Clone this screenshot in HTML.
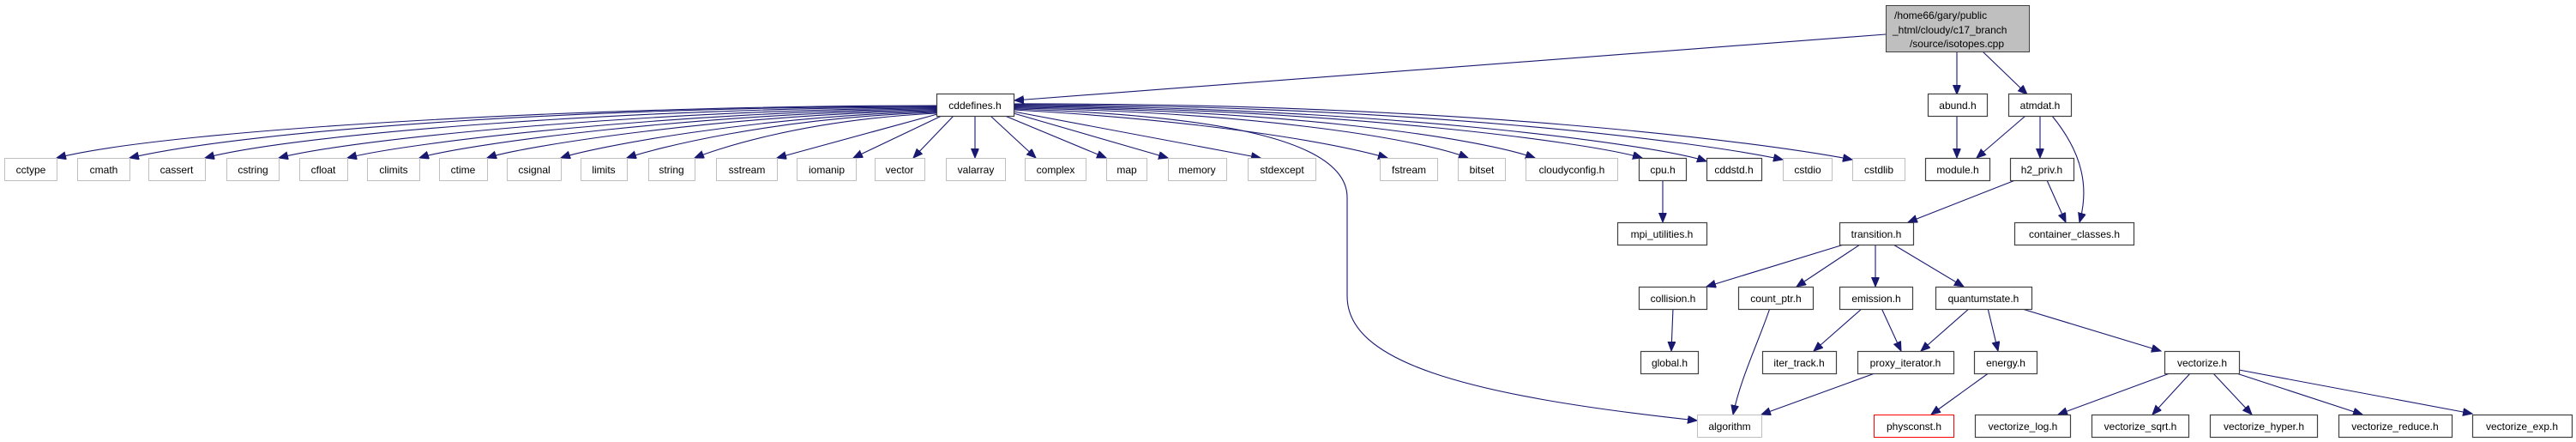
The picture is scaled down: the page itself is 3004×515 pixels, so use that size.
<!DOCTYPE html>
<html><head><meta charset="utf-8"><style>
body{margin:0;background:#fff;width:3004px;height:515px;overflow:hidden}
svg{display:block}
text{font-family:"Liberation Sans",sans-serif;font-size:12px;fill:#000}
.e{fill:none;stroke:#191970;stroke-width:1.1}
.g{fill:#fff;stroke:#bfbfbf;stroke-width:1}
.b{fill:#fff;stroke:#404040;stroke-width:1.2}
</style></head><body>
<svg width="3004" height="515" viewBox="0 0 3004 515" xmlns="http://www.w3.org/2000/svg">
<defs><marker id="a" markerUnits="userSpaceOnUse" markerWidth="12" markerHeight="10" refX="11" refY="4.5" orient="auto"><path d="M0,0 L11,4.5 L0,9 Z" fill="#191970" stroke="#191970"/></marker></defs>
<g id="edges">
<path class="e" marker-end="url(#a)" d="M2199,40 L1183,117"/>
<path class="e" marker-end="url(#a)" d="M2282,60 L2282,110"/>
<path class="e" marker-end="url(#a)" d="M2312,60 L2364,110"/>
<path class="e" marker-end="url(#a)" d="M2282,135 L2282,184"/>
<path class="e" marker-end="url(#a)" d="M2362,135 L2305,184"/>
<path class="e" marker-end="url(#a)" d="M2379,135 L2379,184"/>
<path class="e" marker-end="url(#a)" d="M2393,135 C2430,180 2436,220 2425,259"/>
<path class="e" marker-end="url(#a)" d="M2387,210 L2409,259"/>
<path class="e" marker-end="url(#a)" d="M2350,210 L2225,259"/>
<path class="e" marker-end="url(#a)" d="M2150,285 L1990,334"/>
<path class="e" marker-end="url(#a)" d="M2169,285 L2095,334"/>
<path class="e" marker-end="url(#a)" d="M2187,285 L2187,334"/>
<path class="e" marker-end="url(#a)" d="M2208,285 L2290,334"/>
<path class="e" marker-end="url(#a)" d="M1939,210 L1939,259"/>
<path class="e" marker-end="url(#a)" d="M1951,359 L1949,409"/>
<path class="e" marker-end="url(#a)" d="M2064,359 C2050,400 2030,440 2021,483"/>
<path class="e" marker-end="url(#a)" d="M2172,359 L2115,409"/>
<path class="e" marker-end="url(#a)" d="M2194,359 L2217,409"/>
<path class="e" marker-end="url(#a)" d="M2297,359 L2240,409"/>
<path class="e" marker-end="url(#a)" d="M2318,359 L2330,409"/>
<path class="e" marker-end="url(#a)" d="M2355,359 L2520,409"/>
<path class="e" marker-end="url(#a)" d="M2189,434 L2054,483"/>
<path class="e" marker-end="url(#a)" d="M2320,434 L2252,483"/>
<path class="e" marker-end="url(#a)" d="M2533,434 L2400,483"/>
<path class="e" marker-end="url(#a)" d="M2555,434 L2510,483"/>
<path class="e" marker-end="url(#a)" d="M2580,434 L2626,483"/>
<path class="e" marker-end="url(#a)" d="M2605,434 L2755,483"/>
<path class="e" marker-end="url(#a)" d="M2611,431 L2883,482"/>
<path class="e" marker-end="url(#a)" d="M1182,127 C1450,135 1571,170 1571,230 L1571,345 C1571,420 1700,460 1979,490"/>
<path class="e" marker-end="url(#a)" d="M1092,123 C700,123 200,150 66,184"/>
<path class="e" marker-end="url(#a)" d="M1092,124 C700,124 300,150 151,184"/>
<path class="e" marker-end="url(#a)" d="M1092,125 C750,125 350,155 239,184"/>
<path class="e" marker-end="url(#a)" d="M1092,126 C780,127 420,160 325,184"/>
<path class="e" marker-end="url(#a)" d="M1092,127 C800,129 480,165 405,184"/>
<path class="e" marker-end="url(#a)" d="M1092,128 C820,131 540,168 489,184"/>
<path class="e" marker-end="url(#a)" d="M1092,129 C850,133 610,170 568,184"/>
<path class="e" marker-end="url(#a)" d="M1092,130 C880,135 690,172 654,184"/>
<path class="e" marker-end="url(#a)" d="M1092,131 C900,137 760,174 731,184"/>
<path class="e" marker-end="url(#a)" d="M1092,132 C930,140 830,176 810,184"/>
<path class="e" marker-end="url(#a)" d="M1093,133 L906,184"/>
<path class="e" marker-end="url(#a)" d="M1098,135 L995,184"/>
<path class="e" marker-end="url(#a)" d="M1112,135 L1065,184"/>
<path class="e" marker-end="url(#a)" d="M1137,135 L1137,184"/>
<path class="e" marker-end="url(#a)" d="M1155,135 L1208,184"/>
<path class="e" marker-end="url(#a)" d="M1172,135 L1290,184"/>
<path class="e" marker-end="url(#a)" d="M1182,132 L1362,184"/>
<path class="e" marker-end="url(#a)" d="M1182,130 L1470,184"/>
<path class="e" marker-end="url(#a)" d="M1182,128 C1400,140 1550,165 1618,184"/>
<path class="e" marker-end="url(#a)" d="M1182,126 C1450,130 1650,160 1712,184"/>
<path class="e" marker-end="url(#a)" d="M1182,125 C1500,128 1720,160 1790,184"/>
<path class="e" marker-end="url(#a)" d="M1182,124 C1550,126 1850,165 1915,184"/>
<path class="e" marker-end="url(#a)" d="M1182,123 C1600,124 1930,168 1990,188"/>
<path class="e" marker-end="url(#a)" d="M1182,122 C1650,122 1980,165 2079,186"/>
<path class="e" marker-end="url(#a)" d="M1182,121 C1700,120 2050,165 2160,186"/>
</g>
<g>
<rect x="2199.5" y="6.5" width="167" height="54" fill="#bfbfbf" stroke="#404040"/>
<text x="2209" y="22">/home66/gary/public</text>
<text x="2207" y="39">_html/cloudy/c17_branch</text>
<text x="2282" y="55" text-anchor="middle">/source/isotopes.cpp</text>
</g>
<g text-anchor="middle">
<rect class="b" x="1092.5" y="109.5" width="90" height="26"/><text x="1137" y="127">cddefines.h</text>
<rect class="b" x="2248.5" y="109.5" width="69" height="26"/><text x="2283" y="127">abund.h</text>
<rect class="b" x="2342.5" y="109.5" width="73" height="26"/><text x="2379" y="127">atmdat.h</text>

<rect class="g" x="5.5" y="184.5" width="61" height="26"/><text x="36" y="202">cctype</text>
<rect class="g" x="90.5" y="184.5" width="61" height="26"/><text x="121" y="202">cmath</text>
<rect class="g" x="173.5" y="184.5" width="66" height="26"/><text x="206" y="202">cassert</text>
<rect class="g" x="264.5" y="184.5" width="61" height="26"/><text x="295" y="202">cstring</text>
<rect class="g" x="349.5" y="184.5" width="56" height="26"/><text x="377" y="202">cfloat</text>
<rect class="g" x="428.5" y="184.5" width="61" height="26"/><text x="459" y="202">climits</text>
<rect class="g" x="512.5" y="184.5" width="56" height="26"/><text x="540" y="202">ctime</text>
<rect class="g" x="591.5" y="184.5" width="63" height="26"/><text x="623" y="202">csignal</text>
<rect class="g" x="677.5" y="184.5" width="54" height="26"/><text x="704" y="202">limits</text>
<rect class="g" x="756.5" y="184.5" width="54" height="26"/><text x="783" y="202">string</text>
<rect class="g" x="835.5" y="184.5" width="71" height="26"/><text x="871" y="202">sstream</text>
<rect class="g" x="929.5" y="184.5" width="69" height="26"/><text x="964" y="202">iomanip</text>
<rect class="g" x="1020.5" y="184.5" width="58" height="26"/><text x="1049" y="202">vector</text>
<rect class="g" x="1103.5" y="184.5" width="69" height="26"/><text x="1138" y="202">valarray</text>
<rect class="g" x="1195.5" y="184.5" width="71" height="26"/><text x="1231" y="202">complex</text>
<rect class="g" x="1290.5" y="184.5" width="47" height="26"/><text x="1314" y="202">map</text>
<rect class="g" x="1362.5" y="184.5" width="68" height="26"/><text x="1396" y="202">memory</text>
<rect class="g" x="1455.5" y="184.5" width="79" height="26"/><text x="1495" y="202">stdexcept</text>
<rect class="g" x="1609.5" y="184.5" width="67" height="26"/><text x="1643" y="202">fstream</text>
<rect class="g" x="1700.5" y="184.5" width="55" height="26"/><text x="1728" y="202">bitset</text>
<rect class="g" x="1779.5" y="184.5" width="107" height="26"/><text x="1833" y="202">cloudyconfig.h</text>
<rect class="b" x="1911.5" y="184.5" width="55" height="26"/><text x="1939" y="202">cpu.h</text>
<rect class="b" x="1990.5" y="184.5" width="64" height="26"/><text x="2022" y="202">cddstd.h</text>
<rect class="g" x="2079.5" y="184.5" width="57" height="26"/><text x="2108" y="202">cstdio</text>
<rect class="g" x="2160.5" y="184.5" width="61" height="26"/><text x="2191" y="202">cstdlib</text>
<rect class="b" x="2245.5" y="184.5" width="75" height="26"/><text x="2283" y="202">module.h</text>
<rect class="b" x="2344.5" y="184.5" width="74" height="26"/><text x="2381" y="202">h2_priv.h</text>

<rect class="b" x="1886.5" y="259.5" width="104" height="26"/><text x="1938" y="277">mpi_utilities.h</text>
<rect class="b" x="2145.5" y="259.5" width="86" height="26"/><text x="2188" y="277">transition.h</text>
<rect class="b" x="2349.5" y="259.5" width="139" height="26"/><text x="2419" y="277">container_classes.h</text>

<rect class="b" x="1911.5" y="334.5" width="79" height="26"/><text x="1951" y="352">collision.h</text>
<rect class="b" x="2027.5" y="334.5" width="87" height="26"/><text x="2071" y="352">count_ptr.h</text>
<rect class="b" x="2145.5" y="334.5" width="85" height="26"/><text x="2188" y="352">emission.h</text>
<rect class="b" x="2257.5" y="334.5" width="112" height="26"/><text x="2313" y="352">quantumstate.h</text>

<rect class="b" x="1913.5" y="409.5" width="67" height="26"/><text x="1947" y="427">global.h</text>
<rect class="b" x="2055.5" y="409.5" width="86" height="26"/><text x="2098" y="427">iter_track.h</text>
<rect class="b" x="2166.5" y="409.5" width="112" height="26"/><text x="2222" y="427">proxy_iterator.h</text>
<rect class="b" x="2302.5" y="409.5" width="73" height="26"/><text x="2339" y="427">energy.h</text>
<rect class="b" x="2524.5" y="409.5" width="87" height="26"/><text x="2568" y="427">vectorize.h</text>

<rect class="g" x="1979.5" y="483.5" width="75" height="26"/><text x="2017" y="501">algorithm</text>
<rect x="2185.5" y="483.5" width="93" height="26" fill="#fff" stroke="#ff0000"/><text x="2232" y="501">physconst.h</text>
<rect class="b" x="2303.5" y="483.5" width="111" height="26"/><text x="2359" y="501">vectorize_log.h</text>
<rect class="b" x="2439.5" y="483.5" width="113" height="26"/><text x="2496" y="501">vectorize_sqrt.h</text>
<rect class="b" x="2577.5" y="483.5" width="125" height="26"/><text x="2640" y="501">vectorize_hyper.h</text>
<rect class="b" x="2727.5" y="483.5" width="132" height="26"/><text x="2793" y="501">vectorize_reduce.h</text>
<rect class="b" x="2883.5" y="483.5" width="116" height="26"/><text x="2941" y="501">vectorize_exp.h</text>
</g>
</svg>
</body></html>
